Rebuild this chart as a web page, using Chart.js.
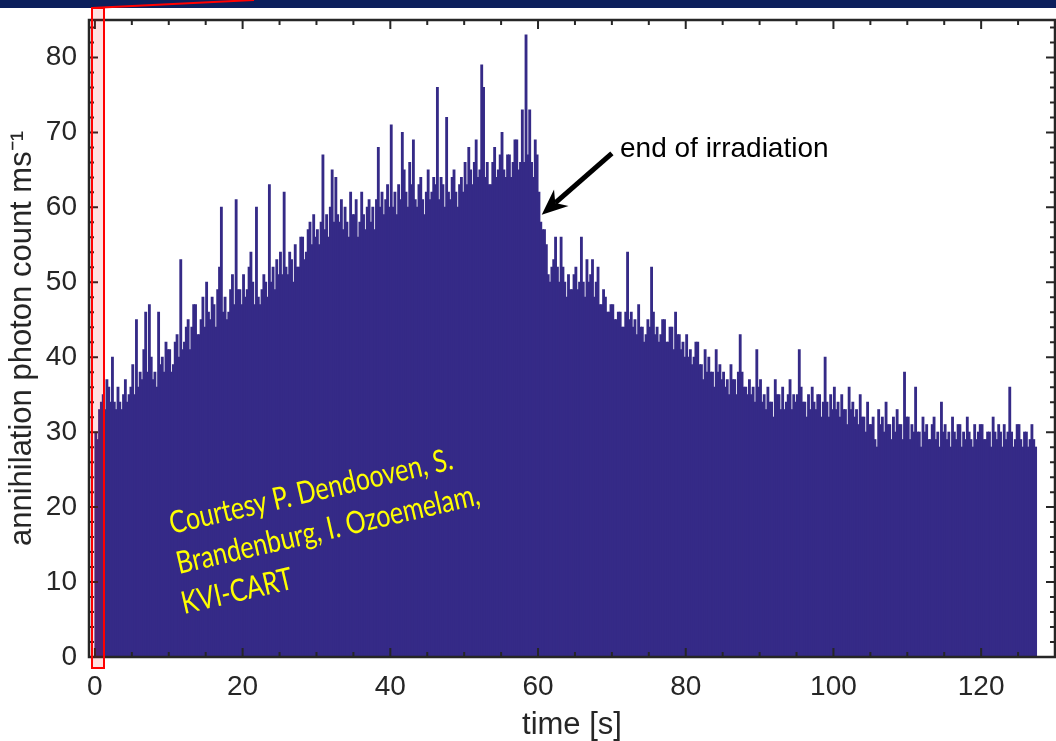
<!DOCTYPE html>
<html>
<head>
<meta charset="utf-8">
<script src="https://cdn.jsdelivr.net/npm/chart.js@4.4.1/dist/chart.umd.min.js"></script>
<style>
  html, body { margin: 0; padding: 0; background: #fff; }
  #wrap { width: 1056px; height: 741px; position: relative; }
</style>
</head>
<body>
<div id="wrap"><canvas id="c" width="1056" height="741"></canvas></div>
<script>
// histogram bins: start time and width in seconds
const binStart = 0;
const binWidth = 0.25;
// annihilation photon counts per ms, one value per 0.25 s bin
const counts = [
  30,29,33,34,35,33,37,36,34,40,34,33,36,34,33,35,37,34,35,36,   // 0 - 5 s
  39,35,45,36,38,37,41,46,38,47,40,37,38,36,46,39,40,38,42,41,   // 5 - 10 s
  41,38,39,42,43,40,53,41,42,44,45,41,44,47,47,43,43,45,48,44,   // 10 - 15 s
  50,46,45,48,47,44,49,52,60,46,48,45,46,49,51,47,61,49,49,47,   // 15 - 20 s
  51,48,49,52,54,50,47,60,48,47,49,51,50,48,63,50,52,49,53,51,   // 20 - 25 s
  54,51,62,52,51,54,53,50,55,52,52,56,56,53,54,57,58,55,59,56,   // 25 - 30 s
  57,55,58,67,57,59,56,60,65,58,64,59,58,61,57,60,58,56,62,59,   // 30 - 35 s
  59,61,56,58,62,59,57,60,61,58,60,57,61,68,60,62,59,61,63,60,   // 35 - 40 s
  71,60,62,59,63,61,70,65,62,60,66,63,69,61,60,63,64,61,59,62,   // 40 - 45 s
  65,61,62,64,63,76,61,64,63,60,72,62,61,64,65,62,60,63,64,62,   // 45 - 50 s
  66,63,68,65,63,66,69,64,65,79,76,64,66,63,63,66,68,64,65,67,   // 50 - 55 s
  70,65,64,67,67,64,66,69,69,65,66,73,66,83,67,73,66,64,69,67,   // 55 - 60 s
  62,58,57,57,55,51,50,52,53,56,52,50,56,52,50,48,51,49,49,51,   // 60 - 65 s
  52,49,50,56,50,48,53,50,51,53,48,50,52,47,47,49,48,46,46,47,   // 65 - 70 s
  47,45,45,46,46,44,44,46,54,45,46,44,45,43,47,44,44,42,43,45,   // 70 - 75 s
  44,52,46,43,44,42,43,45,45,42,42,44,44,41,46,43,43,41,42,40,   // 75 - 80 s
  43,40,41,39,40,42,42,39,39,37,41,38,40,38,38,36,41,38,39,37,   // 80 - 85 s
  38,36,37,35,39,37,37,35,38,43,38,36,36,35,37,35,36,34,41,36,   // 85 - 90 s
  37,34,35,33,36,34,34,32,37,35,35,33,36,33,34,35,37,33,35,34,   // 90 - 95 s
  35,41,36,34,34,32,35,33,36,34,33,35,35,32,34,40,34,32,35,33,   // 95 - 100 s
  36,33,34,32,35,33,33,31,36,33,34,32,33,31,35,32,32,30,34,31,   // 100 - 105 s
  31,32,29,28,33,31,32,30,34,31,31,29,32,30,33,31,31,29,38,32,   // 105 - 110 s
  32,29,31,30,36,30,30,28,32,30,31,29,29,31,32,29,30,28,34,30,   // 110 - 115 s
  31,29,30,28,32,30,29,31,31,28,30,29,32,30,29,28,31,29,30,31,   // 115 - 120 s
  31,29,29,30,30,28,32,30,29,31,30,28,31,29,30,36,30,28,29,31,   // 120 - 125 s
  31,29,28,30,30,28,29,31,29,28                                  // 125 - 127.5 s
];
const xTicks = [0, 20, 40, 60, 80, 100, 120];
const yTicks = [0, 10, 20, 30, 40, 50, 60, 70, 80];
const courtesyLines = ['Courtesy P. Dendooven, S.', 'Brandenburg, I. Ozoemelam,', 'KVI-CART'];

const axisColor = '#262626';
const barColor = '#352a87';
const fontFamily = '"Liberation Sans", Arial, sans-serif';

const points = counts.map((v, i) => ({ x: binStart + binWidth * (i + 0.5), y: v }));

function drawArrow(ctx, x1, y1, x2, y2) {
  const ang = Math.atan2(y2 - y1, x2 - x1);
  const c = Math.cos(ang), s = Math.sin(ang);
  const L = 26, W = 11, back = 8;
  ctx.beginPath();
  ctx.moveTo(x1, y1);
  ctx.lineTo(x2 - (L - back) * c, y2 - (L - back) * s);
  ctx.stroke();
  ctx.beginPath();
  ctx.moveTo(x2, y2);
  ctx.lineTo(x2 - L * c + W * s, y2 - L * s - W * c);
  ctx.lineTo(x2 - (L - back) * c, y2 - (L - back) * s);
  ctx.lineTo(x2 - L * c - W * s, y2 - L * s + W * c);
  ctx.closePath();
  ctx.fill();
}

// MATLAB-like box with inward ticks, plus annotations
const overlay = {
  id: 'overlay',
  afterDatasetsDraw(chart) {
    const { ctx, chartArea: a, scales: { x, y } } = chart;
    ctx.save();
    ctx.strokeStyle = axisColor;
    ctx.lineWidth = 2;
    ctx.beginPath();
    for (let v = 0; v <= 125; v += 5) {
      const px = x.getPixelForValue(v);
      const len = v % 20 === 0 ? 9 : 5;
      ctx.moveTo(px, a.bottom); ctx.lineTo(px, a.bottom - len);
      ctx.moveTo(px, a.top); ctx.lineTo(px, a.top + len);
    }
    for (let v = 0; v <= 84; v += 2) {
      const py = y.getPixelForValue(v);
      const len = v % 10 === 0 ? 9 : 5;
      ctx.moveTo(a.left, py); ctx.lineTo(a.left + len, py);
      ctx.moveTo(a.right, py); ctx.lineTo(a.right - len, py);
    }
    ctx.stroke();
    ctx.lineWidth = 2.5;
    ctx.strokeRect(a.left, a.top, a.right - a.left, a.bottom - a.top);

    // end of irradiation annotation
    ctx.fillStyle = '#000';
    ctx.strokeStyle = '#000';
    ctx.lineWidth = 5;
    drawArrow(ctx, x.getPixelForValue(70.0), y.getPixelForValue(67.2),
                   x.getPixelForValue(60.5), y.getPixelForValue(59.0));
    ctx.font = '28px ' + fontFamily;
    ctx.textBaseline = 'alphabetic';
    ctx.fillText('end of irradiation', x.getPixelForValue(71.1), y.getPixelForValue(66.7));

    // courtesy text
    ctx.fillStyle = '#ffff00';
    ctx.font = '31px Lato, "Open Sans", sans-serif';
    const sx = 290 / ctx.measureText(courtesyLines[0]).width;
    const starts = [[172, 534], [179, 574], [184, 614]];
    courtesyLines.forEach((t, i) => {
      ctx.save();
      ctx.translate(starts[i][0], starts[i][1]);
      ctx.rotate(-13 * Math.PI / 180);
      ctx.scale(sx, 1);
      ctx.fillText(t, 0, 0);
      ctx.restore();
    });
    ctx.restore();
  },
  afterDraw(chart) {
    const ctx = chart.ctx;
    ctx.save();
    ctx.fillStyle = '#0b1f5c';
    ctx.fillRect(0, 0, 1056, 8);
    ctx.fillStyle = 'rgba(255,0,0,0.12)';
    ctx.fillRect(92, 8, 12, 660);
    ctx.strokeStyle = '#ff0000';
    ctx.lineWidth = 2;
    ctx.strokeRect(92, 8, 12, 660);
    ctx.beginPath();
    ctx.moveTo(92, 8);
    ctx.lineTo(254, 0);
    ctx.stroke();
    ctx.restore();
  }
};

new Chart(document.getElementById('c'), {
  type: 'bar',
  data: {
    datasets: [{
      data: points,
      backgroundColor: barColor,
      borderWidth: 0,
      inflateAmount: 0.5,
      barPercentage: 1,
      categoryPercentage: 1,
      grouped: false
    }]
  },
  options: {
    responsive: false,
    animation: false,
    devicePixelRatio: 1,
    layout: { padding: { top: 20, right: 1, left: 0, bottom: 0 } },
    plugins: { legend: { display: false }, tooltip: { enabled: false } },
    scales: {
      x: {
        type: 'linear',
        min: -0.8,
        max: 130,
        offset: false,
        grid: { display: false, drawTicks: false },
        border: { display: false },
        afterBuildTicks: s => { s.ticks = xTicks.map(v => ({ value: v })); },
        afterFit: s => { s.height = 84; s.paddingLeft = 0; s.paddingRight = 0; },
        ticks: { font: { family: fontFamily, size: 28 }, color: axisColor, padding: 13, maxRotation: 0, autoSkip: false },
        title: { display: true, text: 'time [s]', font: { family: fontFamily, size: 31, lineHeight: 1 }, color: axisColor, padding: { top: 0, bottom: 0 } }
      },
      y: {
        min: 0,
        max: 85,
        grid: { display: false, drawTicks: false },
        border: { display: false },
        afterBuildTicks: s => { s.ticks = yTicks.map(v => ({ value: v })); },
        afterFit: s => { s.width = 89; s.paddingTop = 0; s.paddingBottom = 0; },
        ticks: { font: { family: fontFamily, size: 28 }, color: axisColor, padding: 12, autoSkip: false },
        title: { display: true, text: 'annihilation photon count ms\u207B\u00B9', font: { family: fontFamily, size: 31 }, color: axisColor, padding: { top: 4, bottom: 0 } }
      }
    }
  },
  plugins: [overlay]
});
</script>
</body>
</html>
